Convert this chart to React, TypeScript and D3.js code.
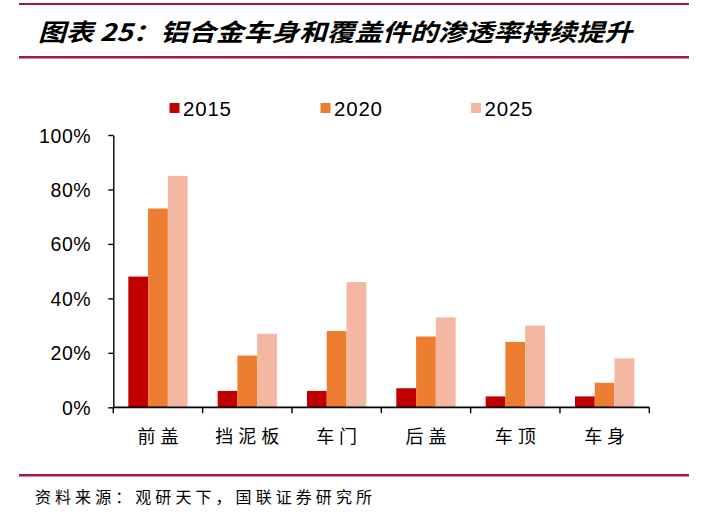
import * as d3 from 'd3'
import { useEffect, useRef } from 'react'

// categories and series
const categories = ['前盖', '挡泥板', '车门', '后盖', '车顶', '车身']
const years = ['2015', '2020', '2025']
const values2015 = [0.48, 0.06, 0.06, 0.07, 0.04, 0.04]
const values2020 = [0.73, 0.19, 0.28, 0.26, 0.24, 0.09]
const values2025 = [0.85, 0.27, 0.46, 0.33, 0.3, 0.18]
const yTicks = [0, 0.2, 0.4, 0.6, 0.8, 1]

const title = '图表 25：铝合金车身和覆盖件的渗透率持续提升'
const source = '资料来源：观研天下，国联证券研究所'

const colors = ['#C00000', '#ED7D31', '#F4B8A2']
const lineColor = '#A11A3E'

const App = () => {
  const svgRef = useRef<SVGSVGElement>(null)

  useEffect(() => {
    const svg = d3.select(svgRef.current)
    svg.selectAll('*').remove()

    const series = [values2015, values2020, values2025]

    // header lines + title
    svg.append('rect').attr('x', 19).attr('y', 3).attr('width', 670).attr('height', 2).attr('fill', lineColor)
    svg.append('rect').attr('x', 19).attr('y', 56).attr('width', 670).attr('height', 2.5).attr('fill', lineColor)
    svg
      .append('text')
      .attr('x', 38)
      .attr('y', 41)
      .attr('textLength', 594)
      .attr('lengthAdjust', 'spacingAndGlyphs')
      .text(title)
      .style('font-family', '"Noto Sans CJK SC", sans-serif')
      .style('font-size', '24px')
      .style('font-weight', 'bold')
      .style('font-style', 'italic')
      .attr('fill', '#000')

    // scales
    const x0 = d3.scaleBand().domain(categories).range([113.3, 649.3]).paddingInner(0).paddingOuter(0)
    const x1 = d3.scaleBand().domain(years).range([0, x0.bandwidth()]).paddingInner(0).paddingOuter(0.76)
    const y = d3.scaleLinear().domain([0, 1]).range([407.3, 135])

    // y axis
    const yAxis = d3
      .axisLeft(y)
      .tickValues(yTicks)
      .tickSize(5)
      .tickSizeOuter(0)
      .tickPadding(17)
      .tickFormat(d3.format('.0%') as any)
    const gy = svg.append('g').attr('transform', 'translate(113.3,0)').call(yAxis)
    gy.select('.domain').attr('stroke', '#000').attr('stroke-width', 1.4)
    gy.selectAll('.tick line').attr('stroke', '#000').attr('stroke-width', 1.4)
    gy.selectAll('.tick text')
      .attr('fill', '#000')
      .attr('dy', '0.36em')
      .style('font-family', '"Liberation Sans", Arial, sans-serif')
      .style('font-size', '19.5px')
      .style('letter-spacing', '0.6px')

    // bars
    series.forEach((vals, si) => {
      svg
        .append('g')
        .selectAll('rect')
        .data(vals)
        .enter()
        .append('rect')
        .attr('x', (_, i) => (x0(categories[i]) as number) + (x1(years[si]) as number))
        .attr('width', x1.bandwidth())
        .attr('y', (d) => y(d))
        .attr('height', (d) => y(0) - y(d))
        .attr('fill', colors[si])
    })

    // x axis
    const gx = svg.append('g')
    const [xStart, xEnd] = x0.range()
    gx.append('line')
      .attr('x1', xStart)
      .attr('x2', xEnd)
      .attr('y1', y(0))
      .attr('y2', y(0))
      .attr('stroke', '#000')
      .attr('stroke-width', 1.8)
    const edges = categories.map((c) => x0(c) as number).concat([xEnd])
    gx.selectAll('line.tick')
      .data(edges)
      .enter()
      .append('line')
      .classed('tick', true)
      .attr('x1', (d) => d)
      .attr('x2', (d) => d)
      .attr('y1', y(0))
      .attr('y2', y(0) + 6)
      .attr('stroke', '#000')
      .attr('stroke-width', 1.4)
    gx.selectAll('text')
      .data(categories)
      .enter()
      .append('text')
      .attr('x', (d) => (x0(d) as number) + x0.bandwidth() / 2 + 2.5)
      .attr('y', 437)
      .attr('dy', '0.35em')
      .attr('text-anchor', 'middle')
      .text((d) => d)
      .style('font-family', '"Noto Sans CJK SC", sans-serif')
      .style('font-size', '18px')
      .style('letter-spacing', '5px')
      .attr('fill', '#000')

    // legend
    const legendX = [169.5, 320.5, 471]
    years.forEach((yr, i) => {
      svg.append('rect').attr('x', legendX[i]).attr('y', 103).attr('width', 10).attr('height', 10).attr('fill', colors[i])
      svg
        .append('text')
        .attr('x', legendX[i] + 13.5)
        .attr('y', 108.5)
        .attr('dy', '0.36em')
        .text(yr)
        .style('font-family', '"Liberation Sans", Arial, sans-serif')
        .style('font-size', '20.5px')
        .style('letter-spacing', '0.8px')
        .attr('fill', '#000')
    })

    // footer
    svg.append('rect').attr('x', 19).attr('y', 474).attr('width', 670).attr('height', 2.5).attr('fill', lineColor)
    svg
      .append('text')
      .attr('x', 35)
      .attr('y', 497)
      .attr('dy', '0.35em')
      .attr('textLength', 337)
      .attr('lengthAdjust', 'spacing')
      .text(source)
      .style('font-family', '"Noto Sans CJK SC", sans-serif')
      .style('font-size', '16px')
      .attr('fill', '#000')
  }, [])

  return (
    <svg
      ref={svgRef}
      width={711}
      height={529}
      style={{ position: 'absolute', left: 0, top: 0, background: '#fff' }}
    />
  )
}

export default App
